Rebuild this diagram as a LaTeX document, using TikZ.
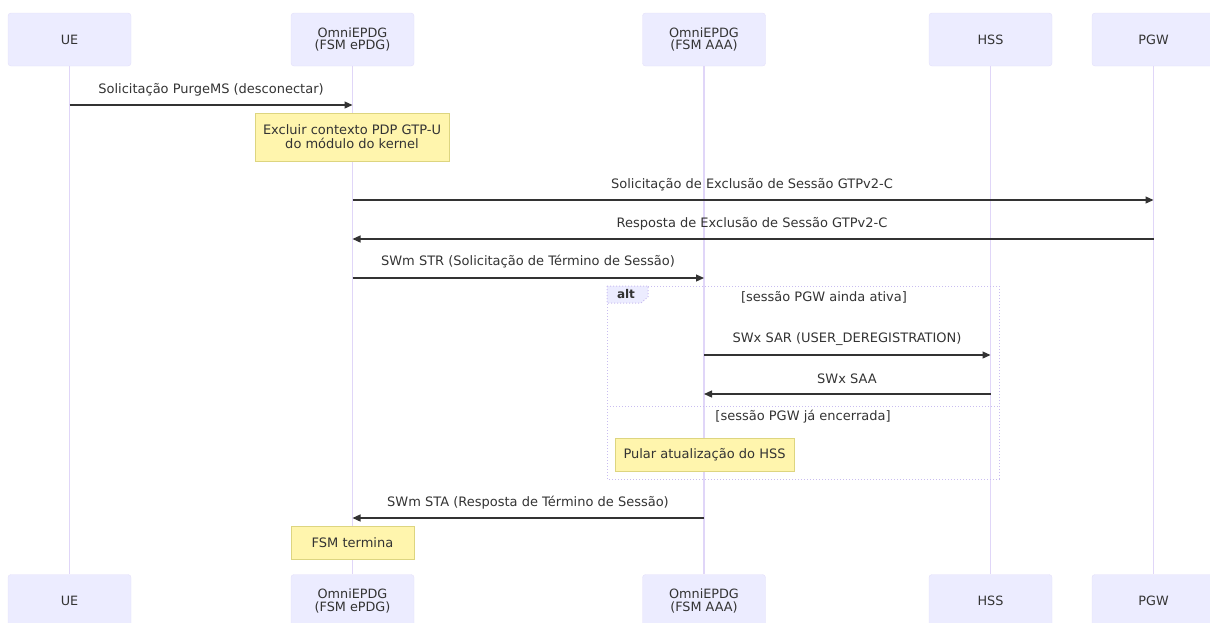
\documentclass[tikz,border=0pt]{standalone}
\usepackage{fontspec}
\setmainfont{DejaVu Sans}
\usetikzlibrary{arrows.meta}
\definecolor{txt}{HTML}{333333}
\definecolor{actf}{HTML}{ECECFF}
\definecolor{actb}{HTML}{E4E0FA}
\definecolor{lifec}{HTML}{E0D6F8}
\definecolor{notef}{HTML}{FFF5AD}
\definecolor{noteb}{HTML}{DDD580}
\definecolor{framec}{HTML}{C9BDF0}
\begin{document}
\begin{tikzpicture}[x=1pt,y=-1pt,
  actor/.style={draw=actb, fill=actf, rounded corners=3pt, minimum width=123pt, minimum height=53pt, align=center, inner sep=0pt, font=\fontsize{12.8}{12.5}\selectfont, text=txt},
  life/.style={draw=lifec, line width=1.4pt},
  msg/.style={draw=txt, line width=1.2pt, -{Triangle[length=8pt,width=7pt]}},
  mlabel/.style={font=\fontsize{13}{13}\selectfont, text=txt, inner sep=0pt},
  note/.style={draw=noteb, fill=notef, align=center, inner sep=0pt, font=\fontsize{13}{14}\selectfont, text=txt},
  frame/.style={draw=framec, line width=1pt, dotted},
]
\useasboundingbox (0,0) rectangle (1210,622);
% participants top
\node[actor] (ueT) at (69.5,39.5) {UE};
\node[actor] (epT) at (352.5,39.5) {OmniEPDG\\(FSM ePDG)};
\node[actor] (aaT) at (704,39.5) {OmniEPDG\\(FSM AAA)};
\node[actor] (hsT) at (990.5,39.5) {HSS};
\node[actor] (pgT) at (1153.5,39.5) {PGW};
% participants bottom
\node[actor] (ueB) at (69.5,601) {UE};
\node[actor] (epB) at (352.5,601) {OmniEPDG\\(FSM ePDG)};
\node[actor] (aaB) at (704,601) {OmniEPDG\\(FSM AAA)};
\node[actor] (hsB) at (990.5,601) {HSS};
\node[actor] (pgB) at (1153.5,601) {PGW};
% lifelines
\foreach \a in {ue,ep,aa,hs,pg} \draw[life] (\a T.south) -- (\a B.north);
% alt frame
\draw[frame] (607,286) rectangle (999,479);
\draw[frame] (607,406) -- (999,406);
\draw[frame, fill=actf] (607,286) -- (648,286) -- (648,297) -- (641,303) -- (607,303) -- cycle;
\node[mlabel, font=\fontsize{12}{13}\selectfont\bfseries] (altl) at (626,294) {alt};
\node[mlabel] (g1) at (824,297) {[sessão PGW ainda ativa]};
\node[mlabel] (g2) at (803,417) {[sessão PGW já encerrada]};
% messages
\draw[msg] (ueT |- 0,105) -- (epT |- 0,105);
\node[mlabel] (l1) at (211,90) {Solicitação PurgeMS (desconectar)};
\node[note, minimum width=194pt, minimum height=48pt] (n1) at (352,137) {Excluir contexto PDP GTP-U\\do módulo do kernel};
\draw[msg] (epT |- 0,200) -- (pgT |- 0,200);
\node[mlabel] (l2) at (752,185) {Solicitação de Exclusão de Sessão GTPv2-C};
\draw[msg] (pgT |- 0,239) -- (epT |- 0,239);
\node[mlabel] (l3) at (752,224) {Resposta de Exclusão de Sessão GTPv2-C};
\draw[msg] (epT |- 0,278) -- (aaT |- 0,278);
\node[mlabel] (l4) at (528,262) {SWm STR (Solicitação de Término de Sessão)};
\draw[msg] (aaT |- 0,355) -- (hsT |- 0,355);
\node[mlabel] (l5) at (847,339) {SWx SAR (USER\_DEREGISTRATION)};
\draw[msg] (hsT |- 0,394) -- (aaT |- 0,394);
\node[mlabel] (l6) at (847,379) {SWx SAA};
\node[note, minimum width=179pt, minimum height=33pt] (n2) at (704.5,454.5) {Pular atualização do HSS};
\draw[msg] (aaT |- 0,518) -- (epT |- 0,518);
\node[mlabel] (l7) at (528,503) {SWm STA (Resposta de Término de Sessão)};
\node[note, minimum width=123pt, minimum height=33pt] (n3) at (352.5,542.5) {FSM termina};
\end{tikzpicture}
\end{document}
